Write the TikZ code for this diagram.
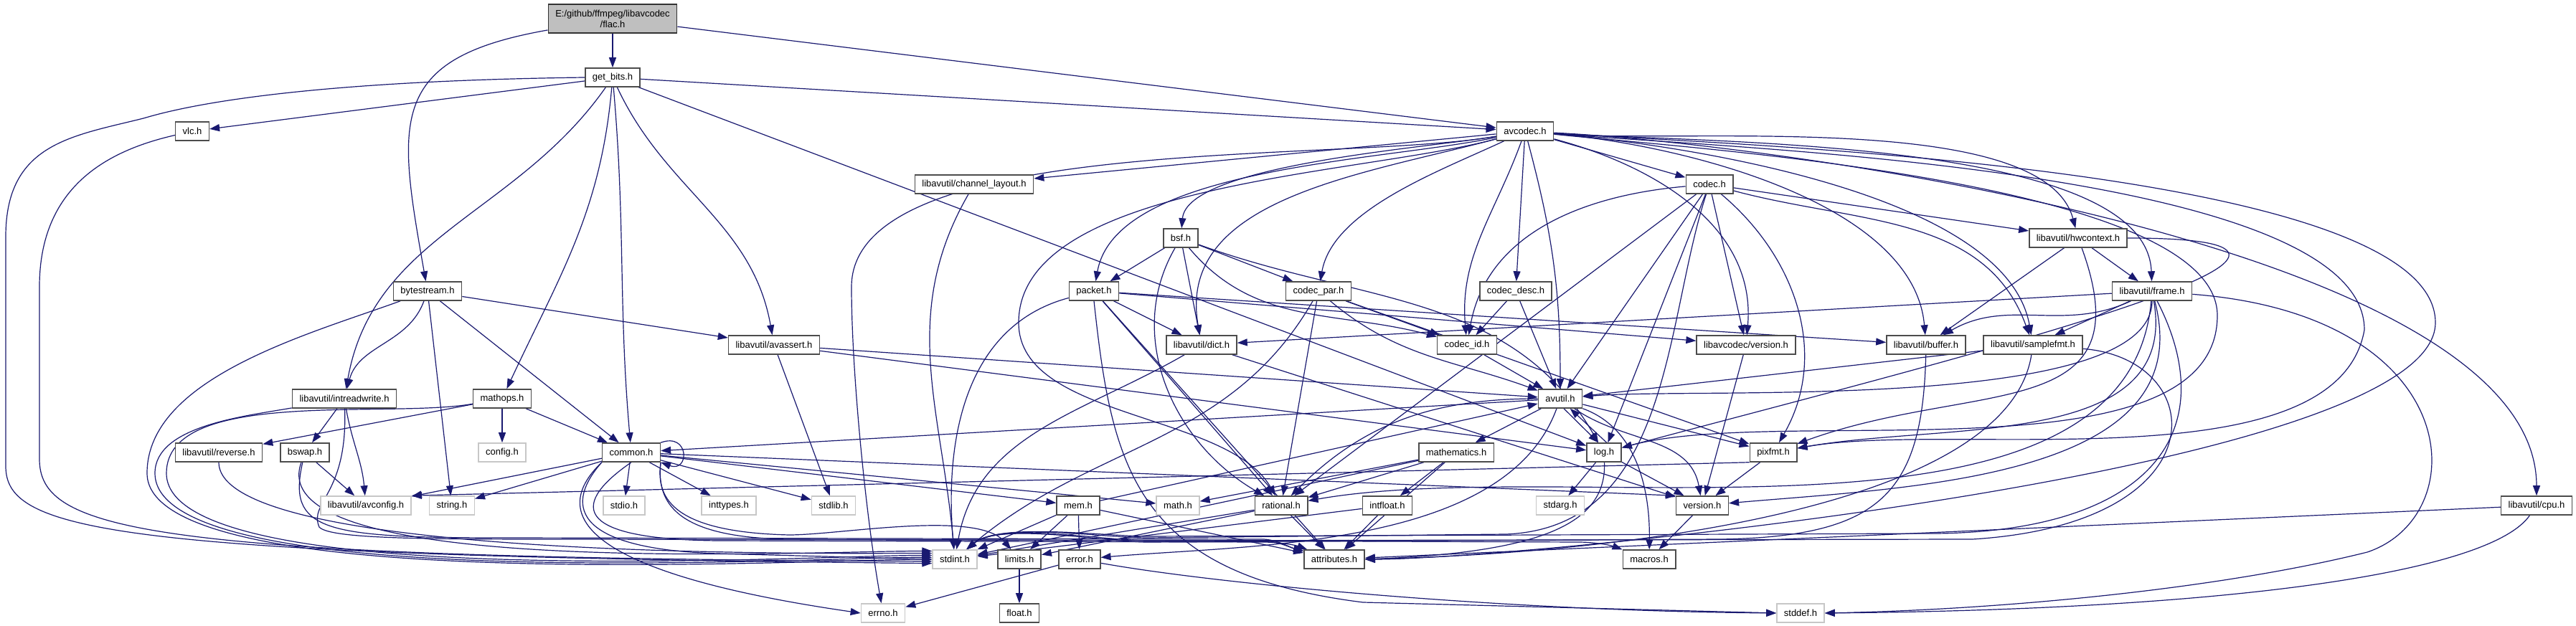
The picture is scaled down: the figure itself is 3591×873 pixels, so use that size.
\documentclass[tikz,border=0pt]{standalone}
\usepackage{fontspec}
\setmainfont{Liberation Sans}
\usetikzlibrary{arrows.meta, backgrounds}
\definecolor{edgeblue}{HTML}{191970}
\definecolor{rootgrey}{HTML}{BFBFBF}

\begin{document}
\begin{tikzpicture}[
    x=0.3pt, y=-0.3pt,
    hdr/.style={draw=black!70, line width=0.45pt, fill=white, minimum height=7.8pt,
                inner xsep=3pt, inner ysep=0pt, font=\fontsize{3.9}{4.5}\selectfont},
    sys/.style={hdr, draw=black!22},
    root/.style={hdr, fill=rootgrey, draw=black!80, align=center, minimum height=12pt},
    dep/.style={draw=edgeblue, line width=0.36pt, -{Triangle[length=4.2pt,width=3pt]}},
]
\useasboundingbox (0,0) rectangle (3591,873);

% ===== rows of headers =====
\node[root] (flac)       at (854,26)   {E:/github/ffmpeg/libavcodec\\/flac.h};
\node[hdr]  (getbits)    at (854,108)  {get\_bits.h};
\node[hdr]  (vlc)        at (268,183)  {vlc.h};
\node[hdr]  (avcodec)    at (2126,183) {avcodec.h};
\node[hdr]  (chlayout)   at (1358,257) {libavutil/channel\_layout.h};
\node[hdr]  (codec)      at (2383,257) {codec.h};
\node[hdr]  (bsf)        at (1646,332) {bsf.h};
\node[hdr]  (hwctx)      at (2897,332) {libavutil/hwcontext.h};
\node[hdr]  (bytestream) at (596,406)  {bytestream.h};
\node[hdr]  (packet)     at (1525,406) {packet.h};
\node[hdr]  (codecpar)   at (1838,406) {codec\_par.h};
\node[hdr]  (codecdesc)  at (2113,406) {codec\_desc.h};
\node[hdr]  (frame)      at (3000,406) {libavutil/frame.h};
\node[hdr]  (avassert)   at (1079,481) {libavutil/avassert.h};
\node[hdr]  (dict)       at (1675,481) {libavutil/dict.h};
\node[hdr]  (codecid)    at (2045,481) {codec\_id.h};
\node[hdr]  (lavcver)    at (2434,481) {libavcodec/version.h};
\node[hdr]  (buffer)     at (2685,481) {libavutil/buffer.h};
\node[hdr]  (samplefmt)  at (2834,481) {libavutil/samplefmt.h};
\node[hdr]  (intrw)      at (480,556)  {libavutil/intreadwrite.h};
\node[hdr]  (mathops)    at (700,556)  {mathops.h};
\node[hdr]  (avutil)     at (2175,556) {avutil.h};
\node[hdr]  (reverse)    at (305,631)  {libavutil/reverse.h};
\node[hdr]  (bswap)      at (425,631)  {bswap.h};
\node[sys]  (config)     at (700,631)  {config.h};
\node[hdr]  (common)     at (880,631)  {common.h};
\node[hdr]  (mathem)     at (2030,631) {mathematics.h};
\node[hdr]  (log)        at (2236,631) {log.h};
\node[hdr]  (pixfmt)     at (2472,631) {pixfmt.h};
\node[sys]  (avconfig)   at (510,705)  {libavutil/avconfig.h};
\node[sys]  (string)     at (630,705)  {string.h};
\node[sys]  (stdio)      at (870,705)  {stdio.h};
\node[sys]  (inttypes)   at (1016,705) {inttypes.h};
\node[sys]  (stdlib)     at (1162,705) {stdlib.h};
\node[hdr]  (mem)        at (1503,705) {mem.h};
\node[sys]  (math)       at (1642,705) {math.h};
\node[hdr]  (rational)   at (1786,705) {rational.h};
\node[hdr]  (intfloat)   at (1934,705) {intfloat.h};
\node[sys]  (stdarg)     at (2175,705) {stdarg.h};
\node[hdr]  (version)    at (2373,705) {version.h};
\node[hdr]  (cpu)        at (3536,705) {libavutil/cpu.h};
\node[sys]  (stdint)     at (1331,780) {stdint.h};
\node[hdr]  (limits)     at (1421,780) {limits.h};
\node[hdr]  (error)      at (1505,780) {error.h};
\node[hdr]  (attributes) at (1860,780) {attributes.h};
\node[hdr]  (macros)     at (2299,780) {macros.h};
\node[sys]  (errno)      at (1231,855) {errno.h};
\node[hdr]  (float)      at (1421,855) {float.h};
\node[sys]  (stddef)     at (2510,855) {stddef.h};

\begin{scope}[on background layer]
\fill[white] (0,0) rectangle (3591,873);

% ===== flac.h =====
\draw[dep] (flac) -- (getbits);
\draw[dep] (flac) to[out=190,in=100,looseness=1.5] (bytestream);
\draw[dep] (flac) -- (avcodec);

% ===== get_bits.h =====
\draw[dep] (getbits) -- (vlc);
\draw[dep] (getbits.west) .. controls (500,112) and (300,135) .. (200,165)
    .. controls (100,190) and (8,200) .. (8,330) -- (8,650)
    .. controls (8,740) and (150,775) .. (stdint.190);
\draw[dep] (getbits) to[out=235,in=80] (intrw);
\draw[dep] (getbits) to[out=265,in=65] (mathops);
\draw[dep] (getbits) to[out=275,in=95] (common);
\draw[dep] (getbits) to[out=295,in=100] (avassert);
\draw[dep] (getbits) -- (log);
\draw[dep] (getbits) -- (avcodec);

% ===== vlc.h, bytestream.h, channel_layout.h =====
\draw[dep] (vlc) .. controls (150,210) and (55,260) .. (55,400) -- (55,640)
    .. controls (55,740) and (200,778) .. (stdint.185);
\draw[dep] (bytestream) to[out=250,in=75] (intrw);
\draw[dep] (bytestream) -- (string);
\draw[dep] (bytestream) -- (common);
\draw[dep] (bytestream) -- (avassert);
\draw[dep] (bytestream) to[out=200,in=90,looseness=0.8] (205,660)
    to[out=270,in=180,looseness=0.4] (stdint.180);
\draw[dep] (chlayout) to[out=240,in=95] (stdint);

% ===== avcodec.h =====
\draw[dep] (avcodec) -- (chlayout);
\draw[dep] (avcodec) to[out=190,in=90,looseness=0.6] (1187,400)
    to[out=270,in=100,looseness=0.7] (errno);
\draw[dep] (avcodec) to[out=195,in=90,looseness=0.7] (1420,450)
    to[out=270,in=120,looseness=0.8] (rational);
\draw[dep] (avcodec) to[out=195,in=100] (dict);
\draw[dep] (avcodec) to[out=190,in=85,looseness=0.5] (bsf);
\draw[dep] (avcodec) to[out=192,in=80,looseness=0.7] (packet);
\draw[dep] (avcodec) to[out=205,in=80,looseness=0.8] (codecpar);
\draw[dep] (avcodec) to[out=250,in=95] (codecid);
\draw[dep] (avcodec) -- (codecdesc);
\draw[dep] (avcodec) to[out=285,in=90] (avutil);
\draw[dep] (avcodec) -- (codec);
\draw[dep] (avcodec) to[out=-15,in=85] (lavcver);
\draw[dep] (avcodec) to[out=-5,in=95,looseness=0.8] (buffer);
\draw[dep] (avcodec) to[out=-5,in=100,looseness=0.7] (samplefmt);
\draw[dep] (avcodec) to[out=-5,in=105,looseness=0.6] (hwctx);
\draw[dep] (avcodec) to[out=-4,in=92,looseness=0.6] (frame);
\draw[dep] (avcodec) to[out=-6,in=90,looseness=0.5] (3091,440)
    to[out=270,in=15,looseness=0.7] (log);
\draw[dep] (avcodec) to[out=-5,in=90,looseness=0.5] (3296,460)
    to[out=260,in=10,looseness=0.7] (pixfmt);
\draw[dep] (avcodec) to[out=-4,in=90,looseness=0.45] (3395,450)
    to[out=270,in=0,looseness=0.35] (attributes);
\draw[dep] (avcodec) to[out=-3,in=90,looseness=0.6] (cpu);

% ===== codec.h =====
\draw[dep] (codec) to[out=185,in=80] (codecid);
\draw[dep] (codec) -- (avutil);
\draw[dep] (codec) -- (rational);
\draw[dep] (codec) -- (log);
\draw[dep] (codec) -- (lavcver);
\draw[dep] (codec) to[out=-40,in=60] (pixfmt);
\draw[dep] (codec) -- (hwctx);
\draw[dep] (codec) to[out=-15,in=110] (samplefmt);
\draw[dep] (codec) .. controls (2320,450) and (2330,735) .. (2100,745) -- (1600,750)
    to[out=180,in=40,looseness=0.6] (stdint);

% ===== bsf.h, packet.h =====
\draw[dep] (bsf) -- (packet);
\draw[dep] (bsf) -- (codecpar);
\draw[dep] (bsf) -- (dict);
\draw[dep] (bsf) to[out=240,in=150] (rational);
\draw[dep] (bsf) to[out=-50,in=165] (codecid);
\draw[dep] (bsf) to[out=-20,in=120] (log);
\draw[dep] (packet) to[out=195,in=95] (stdint);
\draw[dep] (packet.south) .. controls (1550,650) and (1580,800) .. (1900,840) -- (stddef.west);
\draw[dep] (packet) -- (attributes);
\draw[dep] (packet) -- (buffer);
\draw[dep] (packet) -- (dict);
\draw[dep] (packet) -- (rational);
\draw[dep] (packet) -- (lavcver);

% ===== codec_par.h, codec_desc.h, codec_id.h =====
\draw[dep] (codecpar) to[out=240,in=40] (stdint);
\draw[dep] (codecpar) to[out=-40,in=160] (avutil);
\draw[dep] (codecpar) -- (rational);
\draw[dep] (codecpar) -- (pixfmt);
\draw[dep] (codecpar) -- (codecid);
\draw[dep] (codecdesc) -- (avutil);
\draw[dep] (codecdesc) -- (codecid);
\draw[dep] (codecid) -- (avutil);

% ===== hwcontext.h, frame.h =====
\draw[dep] (hwctx) -- (buffer);
\draw[dep] (hwctx) -- (frame);
\draw[dep] (hwctx) to[out=290,in=20,looseness=1.4] (pixfmt);
\draw[dep] (hwctx) to[out=0,in=15,looseness=1.5] (log);
\draw[dep] (frame) -- (dict);
\draw[dep] (frame) to[out=205,in=30] (buffer);
\draw[dep] (frame) -- (samplefmt);
\draw[dep] (frame) to[out=270,in=5,looseness=0.5] (avutil);
\draw[dep] (frame) to[out=280,in=10] (pixfmt);
\draw[dep] (frame) to[out=285,in=5] (version);
\draw[dep] (frame) to[out=265,in=10,looseness=0.8] (rational);
\draw[dep] (frame) .. controls (3100,600) and (3000,740) .. (2700,744) -- (1600,748)
    to[out=180,in=40,looseness=0.6] (stdint);
\draw[dep] (frame) .. controls (3440,440) and (3450,720) .. (3300,770)
    .. controls (3100,820) and (2800,850) .. (stddef.east);

% ===== avassert.h, dict.h, buffer.h, samplefmt.h =====
\draw[dep] (avassert) -- (stdlib);
\draw[dep] (avassert) -- (avutil);
\draw[dep] (avassert) -- (log);
\draw[dep] (dict) to[out=210,in=80] (stdint);
\draw[dep] (dict) -- (version);
\draw[dep] (lavcver) -- (version);
\draw[dep] (buffer) .. controls (2680,690) and (2620,748) .. (2400,752) -- (1600,756)
    to[out=180,in=40,looseness=0.6] (stdint);
\draw[dep] (samplefmt) -- (avutil);
\draw[dep] (samplefmt) .. controls (2800,700) and (2300,770) .. (attributes.east);
\draw[dep] (samplefmt) .. controls (3080,500) and (3100,730) .. (2750,752) -- (1600,754)
    to[out=180,in=40,looseness=0.6] (stdint);

% ===== intreadwrite.h, mathops.h, reverse.h, bswap.h =====
\draw[dep] (intrw) -- (bswap);
\draw[dep] (intrw) to[out=280,in=95] (avconfig);
\draw[dep] (intrw) to[out=190,in=90,looseness=0.8] (216,660)
    to[out=270,in=180,looseness=0.4] (stdint.175);
\draw[dep] (intrw) .. controls (485,690) and (430,700) .. (445,735)
    .. controls (460,752) and (600,752) .. (800,752) -- (1760,754)
    to[out=0,in=165,looseness=0.8] (attributes);
\draw[dep] (mathops) -- (config);
\draw[dep] (mathops) -- (common);
\draw[dep] (mathops) -- (reverse);
\draw[dep] (mathops) to[out=190,in=90,looseness=0.7] (232,660)
    to[out=270,in=180,looseness=0.4] (stdint.170);
\draw[dep] (reverse) to[out=270,in=180,looseness=0.35] (stdint.165);
\draw[dep] (bswap) -- (avconfig);
\draw[dep] (bswap) to[out=250,in=180,looseness=0.5] (stdint.160);
\draw[dep] (bswap) .. controls (400,740) and (450,750) .. (700,750) -- (1760,752)
    to[out=0,in=165,looseness=0.8] (attributes);

% ===== avutil.h =====
\draw[dep] (avutil) -- (common);
\draw[dep] (avutil) to[out=250,in=5,looseness=0.8] (error);
\draw[dep] (avutil) to[out=180,in=45] (rational);
\draw[dep] (avutil) to[out=-35,in=100] (version);
\draw[dep] (avutil.south east) .. controls (2290,600) and (2300,700) .. (macros);
\draw[dep] (avutil) -- (mathem);
\draw[dep] (avutil.290) -- (log.120);
\draw[dep] (avutil) -- (pixfmt);

% ===== common.h =====
\draw[dep] (common) -- (avconfig);
\draw[dep] (common) -- (string);
\draw[dep] (common) -- (stdio);
\draw[dep] (common) -- (inttypes);
\draw[dep] (common) -- (stdlib);
\draw[dep] (common) -- (math);
\draw[dep] (common) -- (mem);
\draw[dep] (common) -- (version.north west);
\draw[dep] (common.south west) .. controls (790,700) and (790,765) .. (1000,772) -- (stdint.west);
\draw[dep] (common.south) .. controls (800,700) and (790,752) .. (1000,754) -- (1760,756)
    to[out=0,in=160,looseness=0.8] (attributes);
\draw[dep] (common.south east) .. controls (915,690) and (930,742) .. (1100,746)
    to[out=0,in=130,looseness=0.6] (limits);
\draw[dep] (common.south east) .. controls (915,700) and (940,750) .. (1100,752) -- (2200,756)
    to[out=0,in=160,looseness=0.8] (macros);
\draw[dep] (common.south west) .. controls (760,720) and (820,800) .. (errno.west);
\draw[dep] (common.north east) to[out=20,in=-20,looseness=4] (common.south east);

% ===== mathematics.h, log.h, pixfmt.h =====
\draw[dep] (mathem) -- (math);
\draw[dep] (mathem) -- (rational);
\draw[dep] (mathem) -- (intfloat);
\draw[dep] (mathem) -- (attributes);
\draw[dep] (mathem) -- (stdint);
\draw[dep] (log) -- (stdarg);
\draw[dep] (log.75) -- (avutil.315);
\draw[dep] (log) .. controls (2240,730) and (2150,770) .. (attributes.east);
\draw[dep] (log) -- (version);
\draw[dep] (pixfmt) -- (version);
\draw[dep] (pixfmt.south west) -- (avconfig.north east);

% ===== mem.h, rational.h, intfloat.h and the bottom rows =====
\draw[dep] (mem) -- (stdint);
\draw[dep] (mem) -- (limits);
\draw[dep] (mem) -- (error);
\draw[dep] (mem) -- (attributes);
\draw[dep] (mem) -- (avutil);
\draw[dep] (rational) -- (stdint);
\draw[dep] (rational) -- (limits);
\draw[dep] (rational) -- (attributes);
\draw[dep] (intfloat) -- (stdint);
\draw[dep] (intfloat) -- (attributes);
\draw[dep] (version) -- (macros);
\draw[dep] (cpu) -- (attributes);
\draw[dep] (cpu) .. controls (3470,800) and (3100,850) .. (stddef.east);
\draw[dep] (limits) -- (float);
\draw[dep] (error) -- (errno);
\draw[dep] (error) .. controls (1700,815) and (2100,852) .. (stddef.west);
\end{scope}
\end{tikzpicture}
\end{document}
